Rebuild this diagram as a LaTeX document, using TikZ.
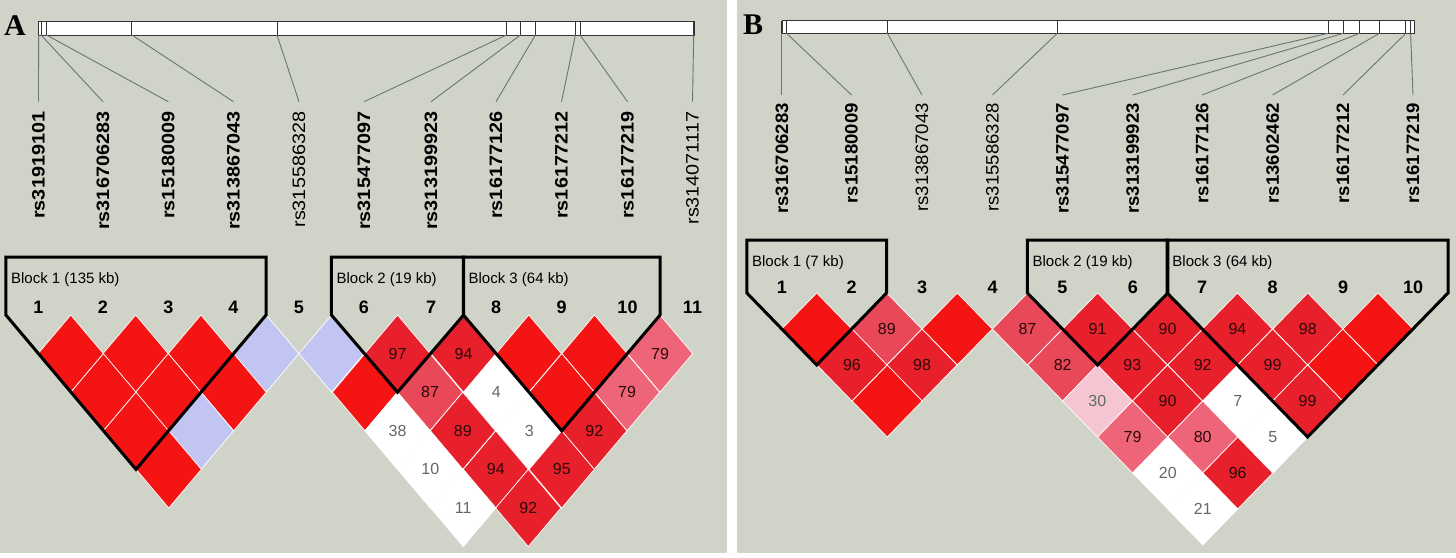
\documentclass[tikz,border=0pt]{standalone}
\usepackage{fontspec}
\setmainfont{Liberation Sans}
\newfontfamily\serifb{Liberation Serif}
\usepackage{graphicx}
\definecolor{bg}{HTML}{CFD3C8}
\definecolor{cR}{HTML}{F41414}
\definecolor{cD}{HTML}{E8202C}
\definecolor{cM}{HTML}{E84858}
\definecolor{cP}{HTML}{EE6478}
\definecolor{cLP}{HTML}{F5C6D2}
\definecolor{cW}{HTML}{FFFFFF}
\definecolor{cLB}{HTML}{C2C4F2}
\definecolor{txtd}{HTML}{2A0A0A}
\definecolor{txtw}{HTML}{606868}
\definecolor{conn}{HTML}{6E7470}
\tikzset{
  blockline/.style={line width=3pt,line join=miter},
  celltext/.style={font=\fontsize{16}{16}\selectfont,inner sep=0pt},
  marknum/.style={font=\fontsize{18}{18}\selectfont\bfseries,inner sep=0pt},
  blocklab/.style={font=\fontsize{15}{15}\selectfont,inner sep=0pt,anchor=west},
  snplab/.style={rotate=90,anchor=east,inner sep=0pt,font=\fontsize{18}{18}\selectfont},
  connline/.style={draw=conn,line width=0.9pt},
  barbox/.style={draw=black!80,fill=white,line width=0.8pt},
}
% \cc{i}{j}{fill}{label}{labelcolor}
\newcommand\cc[5]{%
  \pgfmathsetmacro\xi{\curX[#1-1]}%
  \pgfmathsetmacro\xj{\curX[#2-1]}%
  \pgfmathsetmacro\cx{(\xi+\xj)/2}%
  \pgfmathsetmacro\cy{\curTop+(#2-#1)*\curHy}%
  \fill[#3,draw=white,line width=0.7pt] (\cx-\curHx,\cy)--(\cx,\cy-\curHy)--(\cx+\curHx,\cy)--(\cx,\cy+\curHy)--cycle;
  \node[celltext,text=#5] (c\curP-#1-#2) at (\cx,\cy) {#4};%
}
% \blk{a}{b}{topY}{label}
\newcommand\blk[4]{%
  \pgfmathsetmacro\pa{\curX[#1-1]}%
  \pgfmathsetmacro\pb{\curX[#2-1]}%
  \pgfmathsetmacro\xa{\pa-\curHx}%
  \pgfmathsetmacro\xb{\pb+\curHx}%
  \pgfmathsetmacro\xm{(\pa+\pb)/2}%
  \pgfmathsetmacro\ym{\curTop+(#2-#1+1)*\curHy}%
  \draw[blockline] (\xa,#3)--(\xb,#3)--(\xb,\curTop)--(\xm,\ym)--(\xa,\curTop)--cycle;
  \node[blocklab] (b\curP-#1) at (\xa+5,#3+23) {#4};%
}
\begin{document}
\begin{tikzpicture}[x=1pt,y=-1pt]
\useasboundingbox (0,0) rectangle (1456,557);
\fill[white] (0,0) rectangle (1456,557);
\fill[bg] (0,0) rectangle (727,553);
\fill[bg] (737,0) rectangle (1456,553);
\node[font=\fontsize{30}{30}\selectfont\serifb\bfseries,inner sep=0pt] (letA) at (15,26) {A};
\node[font=\fontsize{30}{30}\selectfont\serifb\bfseries,inner sep=0pt] (letB) at (753,25) {B};
% ---------- Panel A header
\draw[barbox] (38.6,21.7) rectangle (694,35);
\foreach \t/\x/\lab/\w [count=\i] in {38.6/38.5/rs31919101/\bfseries,41/103/rs316706283/\bfseries,46.5/168.3/rs15180009/\bfseries,131.8/233.5/rs313867043/\bfseries,277/299/rs315586328/\mdseries,506.5/364/rs315477097/\bfseries,520.5/431/rs313199923/\bfseries,535.4/496/rs16177126/\bfseries,575.4/561.5/rs16177212/\bfseries,580/627.5/rs16177219/\bfseries,693.7/692.5/rs314071117/\mdseries}{
  \draw[black!80,line width=0.9pt] (\t,21.7)--(\t,35);
  \coordinate (tA\i) at (\t,35);
  \coordinate (eA\i) at (\x,101.7);
  \draw[connline] (tA\i)--(eA\i);
  \node[snplab,font=\fontsize{18}{18}\selectfont\w] (lA\i) at (\x,111.7) {\scalebox{1.1}[1]{\lab}};
}
% ---------- Panel A LD
\def\curP{A}
\def\curX{{38.5,103,168.3,233.5,299,364,431,496,561.5,627.5,692.5}}
\def\curTop{315}\def\curHx{32.6}\def\curHy{38.6}
\foreach \x [count=\i] in {38.5,103,168.3,233.5,299,364,431,496,561.5,627.5,692.5}{
  \node[marknum] (nA\i) at (\x,307) {\i};
}
\cc{1}{2}{cR}{}{txtd}\cc{2}{3}{cR}{}{txtd}\cc{3}{4}{cR}{}{txtd}\cc{4}{5}{cLB}{}{txtd}
\cc{5}{6}{cLB}{}{txtd}\cc{6}{7}{cD}{97}{txtd}\cc{7}{8}{cD}{94}{txtd}\cc{8}{9}{cR}{}{txtd}
\cc{9}{10}{cR}{}{txtd}\cc{10}{11}{cP}{79}{txtd}
\cc{1}{3}{cR}{}{txtd}\cc{2}{4}{cR}{}{txtd}\cc{3}{5}{cR}{}{txtd}\cc{5}{7}{cR}{}{txtd}
\cc{6}{8}{cM}{87}{txtd}\cc{7}{9}{cW}{4}{txtw}\cc{8}{10}{cR}{}{txtd}\cc{9}{11}{cP}{79}{txtd}
\cc{1}{4}{cR}{}{txtd}\cc{2}{5}{cLB}{}{txtd}\cc{5}{8}{cW}{38}{txtw}\cc{6}{9}{cD}{89}{txtd}
\cc{7}{10}{cW}{3}{txtw}\cc{8}{11}{cD}{92}{txtd}
\cc{1}{5}{cR}{}{txtd}\cc{5}{9}{cW}{10}{txtw}\cc{6}{10}{cD}{94}{txtd}\cc{7}{11}{cD}{95}{txtd}
\cc{5}{10}{cW}{11}{txtw}\cc{6}{11}{cD}{92}{txtd}
\blk{1}{4}{257}{Block 1 (135 kb)}
\blk{6}{7}{257}{Block 2 (19 kb)}
\blk{8}{10}{257}{Block 3 (64 kb)}
% ---------- Panel B header
\draw[barbox] (782,20.7) rectangle (1414.2,33.3);
\foreach \t/\x/\lab/\w [count=\i] in {781.9/781.9/rs316706283/\bfseries,786.5/851.5/rs15180009/\bfseries,887.4/922/rs313867043/\mdseries,1057.3/992.5/rs315586328/\mdseries,1328.1/1062.4/rs315477097/\bfseries,1343.4/1132.8/rs313199923/\bfseries,1359.6/1202.2/rs16177126/\bfseries,1379.5/1272.6/rs13602462/\bfseries,1405.9/1343/rs16177212/\bfseries,1410.6/1413/rs16177219/\bfseries}{
  \draw[black!80,line width=0.9pt] (\t,20.7)--(\t,33.3);
  \coordinate (tB\i) at (\t,33.3);
  \coordinate (eB\i) at (\x,95);
  \draw[connline] (tB\i)--(eB\i);
  \node[snplab,font=\fontsize{18}{18}\selectfont\w] (lB\i) at (\x,103) {\scalebox{1.03}[1]{\lab}};
}
% ---------- Panel B LD
\def\curP{B}
\def\curX{{781.9,851.5,922,992.5,1062.4,1132.8,1202.2,1272.6,1343,1413}}
\def\curTop{293}\def\curHx{35}\def\curHy{36}
\foreach \x [count=\i] in {781.9,851.5,922,992.5,1062.4,1132.8,1202.2,1272.6,1343,1413}{
  \node[marknum] (nB\i) at (\x,287) {\i};
}
\cc{1}{2}{cR}{}{txtd}\cc{2}{3}{cM}{89}{txtd}\cc{3}{4}{cR}{}{txtd}\cc{4}{5}{cM}{87}{txtd}
\cc{5}{6}{cD}{91}{txtd}\cc{6}{7}{cD}{90}{txtd}\cc{7}{8}{cD}{94}{txtd}\cc{8}{9}{cD}{98}{txtd}
\cc{9}{10}{cR}{}{txtd}
\cc{1}{3}{cD}{96}{txtd}\cc{2}{4}{cD}{98}{txtd}\cc{4}{6}{cM}{82}{txtd}\cc{5}{7}{cD}{93}{txtd}
\cc{6}{8}{cD}{92}{txtd}\cc{7}{9}{cD}{99}{txtd}\cc{8}{10}{cR}{}{txtd}
\cc{1}{4}{cR}{}{txtd}\cc{4}{7}{cLP}{30}{txtw}\cc{5}{8}{cD}{90}{txtd}\cc{6}{9}{cW}{7}{txtw}
\cc{7}{10}{cD}{99}{txtd}
\cc{4}{8}{cP}{79}{txtd}\cc{5}{9}{cP}{80}{txtd}\cc{6}{10}{cW}{5}{txtw}
\cc{4}{9}{cW}{20}{txtw}\cc{5}{10}{cD}{96}{txtd}
\cc{4}{10}{cW}{21}{txtw}
\blk{1}{2}{240}{Block 1 (7 kb)}
\blk{5}{6}{240}{Block 2 (19 kb)}
\blk{7}{10}{240}{Block 3 (64 kb)}
\end{tikzpicture}
\end{document}
